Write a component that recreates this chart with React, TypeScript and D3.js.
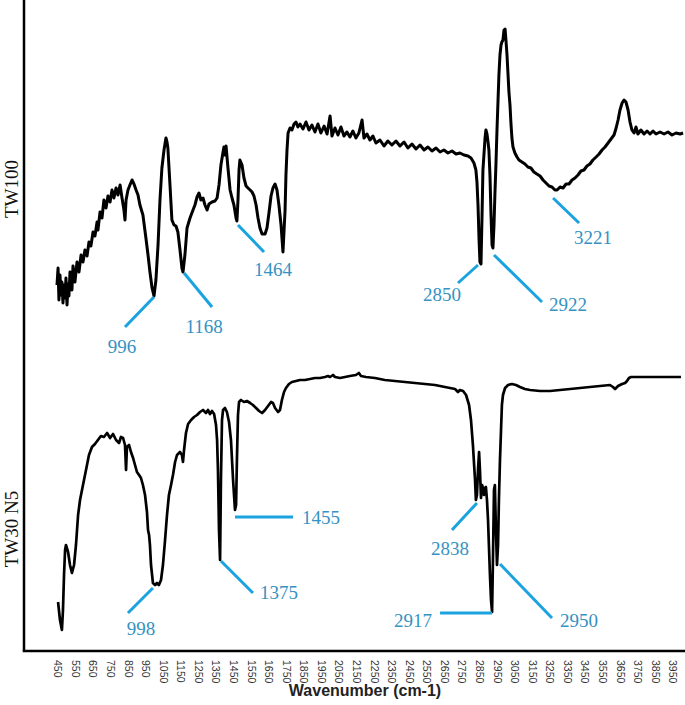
import React from "react";
import * as d3 from "d3";

// ---- data (wavenumber cm-1, offset transmittance in arbitrary units) ----
const xTicks: number[] = d3.range(450, 4000, 100);

const tw100: [number, number][] = [
  [450, 366], [456, 383], [461, 351], [467, 376], [473, 356], [478, 369], [484, 348], [490, 366],
  [496, 353], [501, 373], [507, 346], [513, 367], [518, 355], [524, 379], [535, 361], [541, 385],
  [552, 369], [564, 389], [575, 379], [587, 396], [598, 389], [609, 401], [621, 395], [632, 409],
  [643, 405], [655, 419], [666, 415], [678, 429], [683, 421], [695, 439], [706, 433], [717, 451],
  [729, 443], [740, 455], [752, 449], [763, 461], [774, 453], [786, 463], [797, 456], [809, 466],
  [820, 453], [831, 441], [837, 431], [843, 451], [854, 461], [865, 466], [877, 471], [888, 467],
  [900, 461], [911, 456], [922, 446], [939, 436], [956, 413], [968, 396], [979, 379], [991, 363],
  [1002, 355], [1013, 371], [1025, 406], [1036, 451], [1047, 483], [1059, 501], [1070, 513],
  [1076, 509], [1081, 503], [1093, 466], [1104, 431], [1116, 426], [1127, 425], [1138, 419],
  [1150, 401], [1161, 383], [1167, 379], [1178, 396], [1190, 423], [1207, 433], [1224, 441],
  [1235, 446], [1247, 454], [1258, 458], [1269, 451], [1281, 453], [1292, 446], [1304, 441],
  [1315, 447], [1332, 449], [1349, 450], [1361, 453], [1372, 466], [1383, 486], [1395, 499],
  [1400, 504], [1406, 496], [1412, 505], [1423, 483], [1435, 461], [1446, 453], [1457, 446],
  [1469, 433], [1474, 430], [1480, 451], [1486, 481], [1491, 491], [1503, 486], [1514, 473],
  [1526, 465], [1537, 463], [1549, 461], [1560, 459], [1571, 455], [1583, 446], [1594, 433],
  [1605, 423], [1617, 417], [1634, 417], [1645, 423], [1657, 439], [1668, 455], [1679, 463],
  [1691, 467], [1702, 461], [1713, 446], [1725, 426], [1736, 399], [1748, 441], [1753, 476],
  [1759, 501], [1765, 518], [1776, 523], [1787, 521], [1799, 527], [1810, 529], [1821, 524],
  [1833, 527], [1850, 522], [1867, 529], [1884, 521], [1901, 526], [1918, 519], [1935, 527],
  [1952, 518], [1970, 525], [1987, 517], [2004, 535], [2015, 515], [2032, 523], [2049, 516],
  [2066, 524], [2083, 515], [2100, 519], [2117, 514], [2134, 520], [2151, 513], [2168, 518],
  [2186, 531], [2197, 513], [2214, 517], [2231, 511], [2248, 515], [2265, 508], [2288, 511],
  [2311, 505], [2333, 510], [2356, 506], [2379, 510], [2402, 505], [2425, 509], [2447, 503],
  [2470, 507], [2493, 502], [2516, 506], [2539, 501], [2561, 504], [2584, 500], [2607, 503],
  [2630, 499], [2652, 501], [2675, 498], [2698, 500], [2721, 497], [2743, 498], [2766, 496],
  [2789, 495], [2806, 493], [2823, 488], [2834, 481], [2840, 469], [2846, 446], [2852, 411],
  [2857, 389], [2863, 387], [2869, 436], [2874, 481], [2886, 513], [2891, 521], [2897, 517],
  [2903, 509], [2908, 501], [2914, 476], [2920, 436], [2926, 406], [2931, 403], [2937, 426],
  [2942, 456], [2948, 486], [2954, 521], [2960, 551], [2965, 576], [2971, 596], [2977, 606],
  [2982, 609], [2988, 611], [2994, 621], [3000, 622], [3005, 611], [3011, 596], [3017, 576],
  [3022, 559], [3028, 546], [3033, 529], [3039, 513], [3045, 504], [3056, 498], [3068, 494],
  [3079, 491], [3096, 489], [3113, 487], [3130, 484], [3147, 483], [3164, 479], [3181, 477],
  [3199, 475], [3216, 471], [3233, 468], [3250, 465], [3267, 464], [3284, 461], [3296, 461],
  [3313, 464], [3330, 463], [3347, 467], [3364, 467], [3381, 471], [3398, 473], [3415, 476],
  [3432, 480], [3449, 481], [3466, 485], [3483, 487], [3500, 491], [3518, 494], [3535, 497],
  [3552, 501], [3569, 504], [3586, 508], [3603, 512], [3620, 516], [3632, 523], [3643, 531],
  [3654, 541], [3666, 548], [3677, 551], [3688, 549], [3700, 541], [3711, 529], [3722, 521],
  [3734, 518], [3745, 524], [3756, 517], [3773, 521], [3791, 517], [3808, 520], [3825, 517],
  [3842, 520], [3859, 517], [3882, 519], [3905, 517], [3927, 519], [3950, 516], [3973, 518],
  [3996, 517], [4013, 518],
];

const tw30n5: [number, number][] = [
  [456, 49], [467, 31], [478, 21], [484, 41], [490, 76], [496, 101], [501, 106], [513, 99],
  [524, 86], [535, 78], [547, 86], [558, 106], [570, 136], [581, 151], [598, 166], [615, 181],
  [632, 196], [649, 204], [666, 207], [683, 211], [700, 215], [717, 214], [735, 218], [752, 213],
  [769, 217], [786, 211], [803, 208], [814, 214], [826, 213], [837, 206], [843, 181], [848, 204],
  [860, 206], [871, 199], [883, 193], [894, 186], [905, 179], [917, 176], [928, 173], [939, 166],
  [951, 156], [962, 139], [968, 121], [974, 116], [979, 106], [985, 86], [996, 68], [1008, 66],
  [1019, 68], [1030, 66], [1042, 71], [1053, 86], [1065, 111], [1076, 136], [1087, 156],
  [1099, 166], [1110, 176], [1122, 189], [1133, 196], [1150, 199], [1161, 196], [1167, 189],
  [1173, 201], [1184, 218], [1196, 227], [1213, 231], [1230, 234], [1247, 236], [1264, 239],
  [1281, 241], [1298, 238], [1309, 241], [1321, 237], [1332, 240], [1344, 237], [1355, 226],
  [1361, 211], [1366, 181], [1372, 121], [1378, 91], [1383, 171], [1389, 231], [1395, 241],
  [1406, 243], [1417, 239], [1429, 229], [1440, 211], [1452, 171], [1463, 141], [1469, 146],
  [1474, 191], [1480, 236], [1486, 249], [1497, 251], [1514, 249], [1531, 250], [1549, 248],
  [1565, 246], [1583, 243], [1600, 240], [1617, 238], [1634, 241], [1651, 245], [1668, 249],
  [1679, 248], [1691, 243], [1708, 239], [1719, 241], [1730, 251], [1742, 259], [1753, 263],
  [1770, 267], [1787, 269], [1810, 270], [1833, 271], [1861, 271], [1890, 272], [1918, 273],
  [1947, 273], [1975, 274], [1992, 275], [2004, 274], [2021, 276], [2032, 274], [2061, 273],
  [2089, 274], [2117, 275], [2151, 276], [2168, 278], [2180, 275], [2208, 274], [2259, 273],
  [2316, 271], [2373, 270], [2430, 269], [2487, 268], [2544, 267], [2601, 266], [2658, 264],
  [2715, 262], [2732, 259], [2743, 261], [2761, 260], [2778, 256], [2795, 246], [2806, 231],
  [2817, 206], [2829, 171], [2834, 151], [2840, 156], [2846, 181], [2852, 199], [2857, 181],
  [2863, 153], [2869, 166], [2874, 163], [2880, 156], [2886, 163], [2891, 164], [2897, 151],
  [2903, 131], [2908, 106], [2914, 76], [2920, 51], [2926, 39], [2931, 91], [2937, 161],
  [2942, 166], [2948, 121], [2954, 86], [2960, 106], [2965, 151], [2971, 191], [2977, 221],
  [2982, 246], [2988, 256], [3000, 263], [3017, 266], [3039, 267], [3062, 266], [3085, 264],
  [3113, 262], [3142, 261], [3199, 260], [3256, 260], [3313, 261], [3370, 262], [3427, 263],
  [3483, 264], [3540, 265], [3597, 266], [3614, 264], [3626, 262], [3643, 265], [3666, 267],
  [3683, 268], [3694, 270], [3705, 273], [3717, 274], [3768, 274], [3882, 274], [4001, 274],
];

// peak labels: text, anchor wavenumber, anchor value
const tw100Peaks: [string, number, number][] = [
  ["996", 1002, 354], ["1168", 1173, 378], ["1464", 1480, 426],
  ["2850", 2846, 386], ["2922", 2937, 396], ["3221", 3273, 453],
];
const tw30Peaks: [string, number, number][] = [
  ["998", 996, 63], ["1375", 1383, 90], ["1455", 1463, 134],
  ["2838", 2840, 148], ["2917", 2926, 38], ["2950", 2971, 87],
];

// layout of the callouts (pixel offsets from anchor): line end dx,dy ; text dx,dy ; anchor
const tw100Layout: [number, number, number, number, string][] = [
  [-29, 30, -32, 56, "middle"], [28, 34, 20, 60, "middle"], [26, 27, 35, 51, "middle"],
  [-20, 18, -36, 36, "middle"], [48, 47, 74, 56, "middle"], [26, 25, 40, 46, "middle"],
];
const tw30Layout: [number, number, number, number, string][] = [
  [-25, 25, -12, 47, "middle"], [32, 32, 58, 38, "middle"], [58, 0, 67, 7, "start"],
  [-25, 27, -27, 52, "middle"], [-52, 0, -60, 14, "end"], [52, 54, 79, 63, "middle"],
];

const W = 685;
const H = 705;
const axisX = 24;
const axisY = 651;

export default function App() {
  const x = d3.scaleLinear().domain([450, 3950]).range([57, 672]);
  const y = d3.scaleLinear().domain([0, 651]).range([axisY, 0]);
  const line = d3
    .line<[number, number]>()
    .x((d) => x(d[0]))
    .y((d) => y(d[1]));

  const lineColor = "#1aa3df";
  const textColor = "#3592c2";
  const serif = "'Liberation Serif', 'Times New Roman', serif";
  const sans = "'Liberation Sans', Arial, sans-serif";

  const callouts = (peaks: [string, number, number][], layout: typeof tw100Layout, key: string) =>
    peaks.map((p, i) => {
      const ax = x(p[1]);
      const ay = y(p[2]);
      const [ldx, ldy, tdx, tdy, anchor] = layout[i];
      return (
        <g key={key + i}>
          <line x1={ax} y1={ay} x2={ax + ldx} y2={ay + ldy} stroke={lineColor} strokeWidth={3} />
          <text
            x={ax + tdx}
            y={ay + tdy}
            textAnchor={anchor as any}
            fontFamily={serif}
            fontSize={19}
            fill={textColor}
          >
            {p[0]}
          </text>
        </g>
      );
    });

  return (
    <svg
      width={W}
      height={H}
      style={{ position: "absolute", left: 0, top: 0, background: "#fff" }}
    >
      <rect x={0} y={0} width={W} height={H} fill="#fff" />
      {/* spectra */}
      <path d={line(tw100) || ""} fill="none" stroke="#000" strokeWidth={3} strokeLinejoin="round" />
      <path d={line(tw30n5) || ""} fill="none" stroke="#000" strokeWidth={2.7} strokeLinejoin="round" />

      {/* callouts */}
      {callouts(tw100Peaks, tw100Layout, "a")}
      {callouts(tw30Peaks, tw30Layout, "b")}

      {/* axes frame */}
      <line x1={axisX} y1={0} x2={axisX} y2={axisY} stroke="#000" strokeWidth={2.5} />
      <line x1={axisX - 1.25} y1={axisY} x2={W} y2={axisY} stroke="#000" strokeWidth={2.5} />

      {/* x tick labels */}
      {xTicks.map((t) => (
        <text
          key={t}
          transform={`translate(${x(t)},660) rotate(90)`}
          fontFamily={sans}
          fontSize={10.5}
          fill="#333"
          textAnchor="start"
          dominantBaseline="middle"
        >
          {t}
        </text>
      ))}

      {/* axis title */}
      <text
        x={365}
        y={696}
        textAnchor="middle"
        fontFamily={sans}
        fontWeight="bold"
        fontSize={16}
        fill="#222"
      >
        Wavenumber (cm-1)
      </text>

      {/* series labels */}
      <text
        transform="translate(18,189) rotate(-90)"
        textAnchor="middle"
        fontFamily={serif}
        fontSize={19}
        fill="#111"
      >
        TW100
      </text>
      <text
        transform="translate(18,529) rotate(-90)"
        textAnchor="middle"
        fontFamily={serif}
        fontSize={19}
        fill="#111"
      >
        TW30 N5
      </text>
    </svg>
  );
}
